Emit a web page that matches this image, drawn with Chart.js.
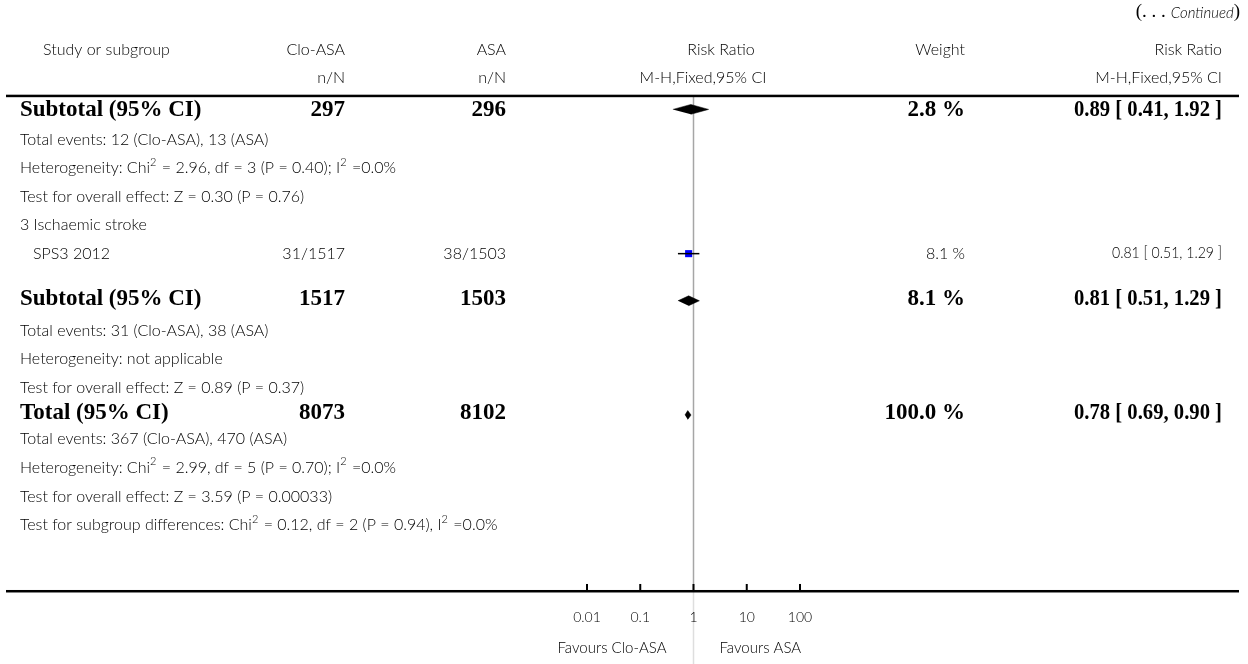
<!DOCTYPE html>
<html>
<head>
<meta charset="utf-8">
<script src="https://cdn.jsdelivr.net/npm/chart.js@4/dist/chart.umd.min.js"></script>
<style>
  body { margin: 0; background: #fff; }
  #wrap { width: 1248px; height: 664px; }
</style>
</head>
<body>
<div id="wrap"><canvas id="forest" width="1248" height="664"></canvas></div>
<script>
// table rows (top to bottom)
const rowLabels = [
  'Subtotal (95% CI)',
  'Total events: 12 (Clo-ASA), 13 (ASA)',
  'Heterogeneity: Chi^2 = 2.96, df = 3 (P = 0.40); I^2 =0.0%',
  'Test for overall effect: Z = 0.30 (P = 0.76)',
  '3 Ischaemic stroke',
  'SPS3 2012',
  'Subtotal (95% CI)',
  'Total events: 31 (Clo-ASA), 38 (ASA)',
  'Heterogeneity: not applicable',
  'Test for overall effect: Z = 0.89 (P = 0.37)',
  'Total (95% CI)',
  'Total events: 367 (Clo-ASA), 470 (ASA)',
  'Heterogeneity: Chi^2 = 2.99, df = 5 (P = 0.70); I^2 =0.0%',
  'Test for overall effect: Z = 3.59 (P = 0.00033)',
  'Test for subgroup differences: Chi^2 = 0.12, df = 2 (P = 0.94), I^2 =0.0%'
];
const rowKinds = ['pooled', 'note', 'note', 'note', 'note', 'study', 'pooled', 'note', 'note', 'note', 'pooled', 'note', 'note', 'note', 'note'];
const cloAsa = ['297', '', '', '', '', '31/1517', '1517', '', '', '', '8073', '', '', '', ''];
const asa = ['296', '', '', '', '', '38/1503', '1503', '', '', '', '8102', '', '', '', ''];
const weights = ['2.8 %', '', '', '', '', '8.1 %', '8.1 %', '', '', '', '100.0 %', '', '', '', ''];
const ratioText = ['0.89 [ 0.41, 1.92 ]', '', '', '', '', '0.81 [ 0.51, 1.29 ]', '0.81 [ 0.51, 1.29 ]', '', '', '', '0.78 [ 0.69, 0.90 ]', '', '', '', ''];

// single studies
const studyRows = [5];
const studyRR = [0.81];
const studyLo = [0.51];
const studyHi = [1.29];

// pooled estimates (diamonds)
const pooledRows = [0, 6, 10];
const pooledRR = [0.89, 0.81, 0.78];
const pooledLo = [0.41, 0.51, 0.69];
const pooledHi = [1.92, 1.29, 0.90];

// x axis
const axisTicks = [0.01, 0.1, 1, 10, 100];
const tickLabels = ['0.01', '0.1', '1', '10', '100'];

// vertical placement of each row, in row units (layout only)
const rowPos = [0, 1.05, 2.05, 3.05, 4.05, 5.05, 6.6, 7.75, 8.75, 9.75, 10.6, 11.55, 12.55, 13.55, 14.55];
const ROW = 29; // px per row unit
const TOP0 = 106; // px of row 0

const LIGHT = '300 16px Lato, "Open Sans", sans-serif';
const LIGHT_SUP = '300 11px Lato, "Open Sans", sans-serif';
const BOLD = 'bold 23px "Liberation Serif", "DejaVu Serif", serif';

function drawRich(ctx, text, x, y) {
  // text with ^2 style superscripts
  const parts = text.split(/\^(\d)/);
  let cx = x;
  ctx.textAlign = 'left';
  parts.forEach((p, i) => {
    const sup = i % 2 === 1;
    ctx.font = sup ? LIGHT_SUP : LIGHT;
    ctx.fillText(p, cx, sup ? y - 6 : y);
    cx += ctx.measureText(p).width + (sup ? 1 : 0);
  });
}

const tablePlugin = {
  id: 'forestTable',
  beforeDatasetsDraw(chart) {
    const ctx = chart.ctx;
    const xs = chart.scales.x, ys = chart.scales.y;
    const x1 = xs.getPixelForValue(1);
    const yTop = ys.getPixelForValue(-0.48);
    const yAxis = ys.getPixelForValue(16.86);
    ctx.save();
    ctx.lineWidth = 1.5;
    ctx.strokeStyle = '#a6a6a6';
    ctx.beginPath(); ctx.moveTo(x1, yTop); ctx.lineTo(x1, yAxis); ctx.stroke();
    ctx.strokeStyle = '#dedede';
    ctx.beginPath(); ctx.moveTo(x1, yAxis); ctx.lineTo(x1, chart.height); ctx.stroke();
    ctx.restore();
  },
  afterDraw(chart) {
    const ctx = chart.ctx;
    const xs = chart.scales.x, ys = chart.scales.y;
    const py = v => ys.getPixelForValue(v);
    ctx.save();
    ctx.fillStyle = '#000';
    ctx.textBaseline = 'middle';

    // continued marker
    ctx.textAlign = 'right';
    ctx.font = '19px "Liberation Serif", serif';
    ctx.fillText(')', 1240, 12);
    let w = ctx.measureText(')').width;
    ctx.font = 'italic 300 15px Lato, sans-serif';
    ctx.fillText('Continued', 1240 - w, 13);
    w += ctx.measureText('Continued').width + 5;
    ctx.font = '19px "Liberation Serif", serif';
    ctx.fillText('(. . .', 1240 - w, 12);

    // headers
    ctx.font = LIGHT;
    ctx.textAlign = 'left';
    ctx.fillText('Study or subgroup', 43, py(-2.1));
    ctx.textAlign = 'right';
    ctx.fillText('Clo-ASA', 345, py(-2.1));
    ctx.fillText('ASA', 506, py(-2.1));
    ctx.fillText('Weight', 965, py(-2.1));
    ctx.fillText('Risk Ratio', 1222, py(-2.1));
    ctx.fillText('n/N', 345, py(-1.1));
    ctx.fillText('n/N', 506, py(-1.1));
    ctx.fillText('M-H,Fixed,95% CI', 1222, py(-1.1));
    ctx.textAlign = 'center';
    ctx.fillText('Risk Ratio', 721, py(-2.1));
    ctx.fillText('M-H,Fixed,95% CI', 703, py(-1.1));

    // rules
    ctx.fillRect(6, py(-0.48) - 1, 1233, 2.5);
    ctx.fillRect(6, py(16.86) - 1, 1233, 2.5);

    // rows
    rowLabels.forEach((lab, i) => {
      const y = py(rowPos[i]);
      const kind = rowKinds[i];
      if (kind === 'pooled') {
        ctx.font = BOLD;
        ctx.textAlign = 'left';
        ctx.fillText(lab, 20, y + 1);
        ctx.textAlign = 'right';
        ctx.fillText(cloAsa[i], 345, y + 1);
        ctx.fillText(asa[i], 506, y + 1);
        ctx.fillText(weights[i], 965, y + 1);
        ctx.fillText(ratioText[i], 1222, y + 1, 148);
      } else if (kind === 'study') {
        drawRich(ctx, lab, 33, y);
        ctx.font = LIGHT;
        ctx.textAlign = 'right';
        ctx.fillText(cloAsa[i], 345, y);
        ctx.fillText(asa[i], 506, y);
        ctx.fillText(weights[i], 965, y);
        ctx.font = '300 15px Lato, "Open Sans", sans-serif';
        ctx.fillText(ratioText[i], 1222, y, 110);
      } else {
        drawRich(ctx, lab, 20, y);
      }
    });

    // axis ticks and labels
    const yAxis = py(16.86);
    ctx.font = '300 14px Lato, "Open Sans", sans-serif';
    ctx.textAlign = 'center';
    axisTicks.forEach((t, i) => {
      const x = xs.getPixelForValue(t);
      ctx.fillRect(x - 1, yAxis - 7, 2, 7);
      ctx.fillText(tickLabels[i], x, py(17.79));
    });
    ctx.font = '300 15px Lato, "Open Sans", sans-serif';
    const x1 = xs.getPixelForValue(1);
    ctx.textAlign = 'right';
    ctx.fillText('Favours Clo-ASA', x1 - 27, py(18.86));
    ctx.textAlign = 'left';
    ctx.fillText('Favours ASA', x1 + 26, py(18.86));
    ctx.restore();
  }
};

const datasets = [];
studyRows.forEach((r, i) => {
  datasets.push({
    type: 'line',
    data: [{ x: studyLo[i], y: rowPos[r] }, { x: studyHi[i], y: rowPos[r] }],
    borderColor: '#000', borderWidth: 1.5, pointRadius: 0, fill: false
  });
});
datasets.push({
  type: 'scatter',
  data: studyRows.map((r, i) => ({ x: studyRR[i], y: rowPos[r] })),
  pointStyle: 'rect', pointRadius: 5, backgroundColor: '#0000ff', borderWidth: 0
});
pooledRows.forEach((r, i) => {
  const h = (r === 10 ? 4.5 : 5) / ROW;
  const y = rowPos[r] + (r === 0 ? 0 : 0.1);
  datasets.push({
    type: 'line',
    data: [
      { x: pooledLo[i], y: y },
      { x: pooledRR[i], y: y - h },
      { x: pooledHi[i], y: y },
      { x: pooledRR[i], y: y + h }
    ],
    borderColor: '#000', borderWidth: 0.5, backgroundColor: '#000',
    pointRadius: 0, fill: 'shape', tension: 0
  });
});

new Chart(document.getElementById('forest').getContext('2d'), {
  type: 'scatter',
  data: { datasets: datasets },
  options: {
    responsive: false,
    animation: false,
    clip: false,
    layout: { padding: { left: 587, right: 448, top: 0, bottom: 0 } },
    scales: {
      x: { type: 'logarithmic', min: 0.01, max: 100, display: false },
      y: { type: 'linear', reverse: true, min: -TOP0 / ROW, max: (664 - TOP0) / ROW, display: false }
    },
    plugins: { legend: { display: false }, tooltip: { enabled: false } }
  },
  plugins: [tablePlugin]
});
</script>
</body>
</html>
